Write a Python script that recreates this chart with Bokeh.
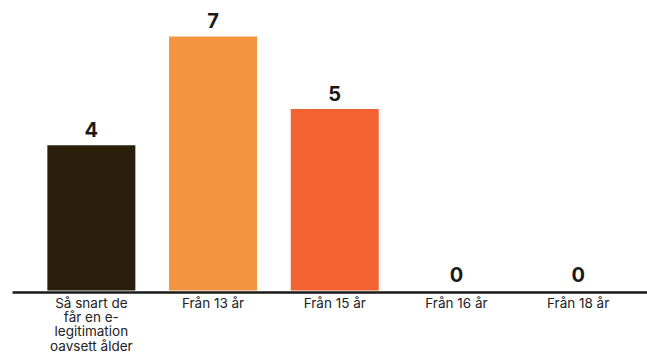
from bokeh.plotting import figure
from bokeh.models import ColumnDataSource, Range1d, FixedTicker
from bokeh.core.properties import value
from bokeh.embed import file_html
from bokeh.resources import INLINE

# Answer options and number of responses for each
categories = [
    "Så snart de\nfår en e-\nlegitimation\noavsett ålder",
    "Från 13 år",
    "Från 15 år",
    "Från 16 år",
    "Från 18 år",
]
counts = [4, 7, 5, 0, 0]
colors = ["#291f0a", "#f29440", "#f26232", "#f26232", "#f26232"]

xs = list(range(len(categories)))
src = ColumnDataSource(dict(
    x=xs,
    y=counts,
    label=[str(c) for c in counts],
    color=colors,
))

p = figure(
    width=647, height=356,
    x_range=Range1d(-0.648, 4.57),
    y_range=Range1d(-0.055, 7.989),
    output_backend="svg", toolbar_location=None,
    min_border_left=12, min_border_right=0,
    min_border_top=0, min_border_bottom=64,
)

p.vbar(x="x", top="y", bottom=0, width=0.723, fill_color="color",
       line_color=None, source=src)

p.text(
    x="x", y="y", text="label", source=src,
    text_align="center", text_baseline="alphabetic", y_offset=-16,
    text_font=value("Inter"), text_font_size="20px", text_font_style="bold",
    text_color="#1a1a1a",
)

p.yaxis.visible = False
p.grid.visible = False
p.outline_line_color = None
p.background_fill_color = "white"
p.border_fill_color = "white"

ax = p.xaxis[0]
ax.ticker = FixedTicker(ticks=xs)
ax.major_label_overrides = {i: c for i, c in zip(xs, categories)}
ax.major_tick_line_color = None
ax.minor_tick_line_color = None
ax.major_tick_out = 0
ax.major_tick_in = 0
ax.major_label_standoff = 2
ax.axis_label_standoff = 0
ax.axis_line_color = "#1a1a1a"
ax.axis_line_width = 2.5
ax.major_label_text_font = "Inter"
ax.major_label_text_font_size = "13.5px"
ax.major_label_text_line_height = 0.9
ax.major_label_text_color = "#222222"

open("out.html", "w").write(file_html(p, INLINE))
